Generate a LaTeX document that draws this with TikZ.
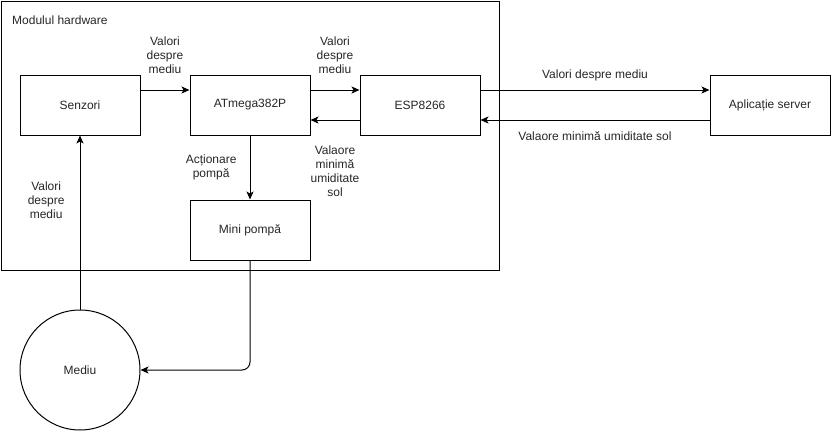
\documentclass[tikz,border=0pt]{standalone}
\usepackage{fontspec}
\setmainfont{Liberation Sans}
\usepackage{tikz}
\usetikzlibrary{arrows.meta,positioning}

\begin{document}
\begin{tikzpicture}[x=1pt,y=-1pt,
    every node/.style={font=\fontsize{12}{14}\selectfont, text=black!85},
    bloc/.style={draw,line width=1pt,minimum width=120pt,minimum height=60pt,inner sep=0pt},
    sageata/.style={line width=1pt,-{Stealth[length=8pt,width=7pt,inset=2pt]}},
    eticheta/.style={align=center,inner sep=0pt}]
    \useasboundingbox (0,0) rectangle (831,431);

    % modulul hardware
    \node[draw,line width=1pt,anchor=north west,minimum width=498pt,minimum height=269pt,inner sep=0pt] (modul) at (0.5,0.5) {};
    \node[anchor=west,inner sep=0pt] (titlu) at (12,20) {Modulul hardware};

    \node[bloc] (senzori) at (80,105) {Senzori};
    \node[bloc] (atmega) at (250,105) {ATmega382P};
    \node[bloc] (esp) at (420,105) {ESP8266};
    \node[bloc] (server) at (770,105) {Aplicație server};
    \node[bloc] (pompa) at (250,230) {Mini pompă};
    \node[draw,line width=1pt,circle,minimum size=120pt,inner sep=0pt] (mediu) at (80,370) {Mediu};

    \draw[sageata] ([yshift=15pt]senzori.east) -- ([yshift=15pt]atmega.west)
        node[eticheta,midway,yshift=35pt] {Valori\\despre\\mediu};
    \draw[sageata] ([yshift=15pt]atmega.east) -- ([yshift=15pt]esp.west)
        node[eticheta,midway,yshift=35pt] {Valori\\despre\\mediu};
    \draw[sageata] ([yshift=-15pt]esp.west) -- ([yshift=-15pt]atmega.east)
        node[eticheta,midway,yshift=-51pt] {Valaore\\minimă\\umiditate\\sol};
    \draw[sageata] ([yshift=15pt]esp.east) -- ([yshift=15pt]server.west)
        node[eticheta,midway,yshift=15pt] {Valori despre mediu};
    \draw[sageata] ([yshift=-15pt]server.west) -- ([yshift=-15pt]esp.east)
        node[eticheta,midway,yshift=-16pt] {Valaore minimă umiditate sol};
    \draw[sageata] (atmega.south) -- (pompa.south |- pompa.north)
        node[eticheta,pos=0.5,left=13pt] {Acționare\\pompă};
    \draw[sageata] (mediu.north) -- (senzori.south)
        node[eticheta,pos=0.63,left=15pt] {Valori\\despre\\mediu};
    \draw[sageata,rounded corners=8pt] (pompa.south) |- (mediu.east);
\end{tikzpicture}
\end{document}
